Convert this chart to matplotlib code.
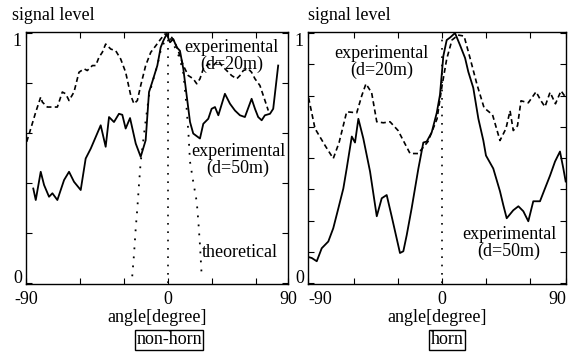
import matplotlib
matplotlib.use('Agg')
import matplotlib.pyplot as plt

plt.rcParams['font.family'] = ['Liberation Serif', 'DejaVu Serif']
plt.rcParams['font.size'] = 13

# ---- non-horn panel (left) ----
nh_20_angle = [-96.8, -94.0, -90.6, -87.2, -86.1, -82.7, -75.8, -72.4, -70.1, -67.8, -64.4, -61.0,
               -57.5, -55.3, -51.8, -49.5, -47.3, -45.0, -42.7, -39.2, -35.8, -32.4, -29.0, -25.5,
               -23.3, -21.0, -18.7, -15.3, -11.8, -8.4, -5.0, -2.1, 0.2, 2.5, 4.8, 8.2, 10.5, 13.9,
               17.3, 19.7, 21.9, 24.2, 27.6, 31.0, 34.5, 36.8, 40.2, 43.6, 47.1, 49.3, 51.6, 55.0,
               57.3, 59.6, 63.0, 65.3, 67.6, 68.7]
nh_20_level = [0.565, 0.618, 0.684, 0.744, 0.724, 0.704, 0.704, 0.764, 0.757, 0.730, 0.764, 0.843,
               0.857, 0.850, 0.870, 0.870, 0.903, 0.923, 0.956, 0.936, 0.929, 0.896, 0.843, 0.750,
               0.717, 0.730, 0.790, 0.870, 0.923, 0.949, 0.976, 0.996, 0.996, 0.983, 0.963, 0.910,
               0.870, 0.830, 0.817, 0.797, 0.817, 0.857, 0.876, 0.870, 0.890, 0.870, 0.850, 0.830,
               0.817, 0.830, 0.850, 0.857, 0.843, 0.817, 0.790, 0.750, 0.710, 0.690]

nh_50_angle = [-92.3, -90.6, -87.2, -84.9, -81.5, -79.2, -75.8, -71.2, -67.8, -64.4, -59.8, -56.4,
               -52.9, -46.1, -42.7, -40.4, -37.0, -33.6, -31.3, -29.0, -26.0, -22.1, -18.7, -15.3,
               -13.0, -10.8, -7.3, -5.0, -3.2, -0.9, 1.4, 3.6, 6.0, 8.2, 10.5, 12.8, 15.1, 17.3,
               21.9, 24.2, 27.6, 29.9, 32.2, 34.5, 39.0, 42.5, 45.9, 49.3, 52.7, 57.3, 59.6, 61.8,
               64.2, 66.4, 69.9, 72.1, 75.5]
nh_50_level = [0.378, 0.332, 0.445, 0.392, 0.345, 0.359, 0.332, 0.412, 0.445, 0.405, 0.372, 0.498,
               0.538, 0.631, 0.545, 0.664, 0.644, 0.677, 0.673, 0.618, 0.660, 0.558, 0.505, 0.571,
               0.764, 0.804, 0.870, 0.943, 0.969, 0.996, 0.963, 0.976, 0.943, 0.929, 0.857, 0.750,
               0.644, 0.598, 0.578, 0.637, 0.657, 0.697, 0.704, 0.671, 0.757, 0.717, 0.690, 0.671,
               0.664, 0.737, 0.697, 0.664, 0.651, 0.671, 0.677, 0.697, 0.870]

# theoretical main lobe (upper part hidden under the measured curves)
theo_angle = [-24.5, -23.3, -22.1, -21.0, -19.9, -18.7, -15.5, -13.0, -10.8, -7.3, -5.0, 0.0,
              5.0, 8.0, 10.5, 12.5, 14.0, 15.1, 17.3, 19.7, 20.8, 21.9, 23.1]
theo_level = [0.027, 0.113, 0.219, 0.299, 0.392, 0.485, 0.64, 0.75, 0.80, 0.87, 0.93, 1.0,
              0.94, 0.90, 0.84, 0.72, 0.60, 0.485, 0.405, 0.325, 0.246, 0.153, 0.027]

# ---- horn panel (right) ----
h_20_angle = [-91.4, -87.0, -80.1, -74.5, -70.5, -65.3, -58.4, -55.0, -52.1, -48.2, -44.7, -40.2,
              -35.6, -30.1, -21.9, -16.4, -9.6, -3.4, 0.0, 3.2, 6.8, 11.0, 15.1, 19.2, 24.0, 28.8,
              34.6, 39.7, 43.8, 46.6, 48.8, 51.7, 54.1, 59.1, 64.4, 67.8, 70.5, 74.0, 77.7, 81.5, 83.9]
h_20_level = [0.741, 0.618, 0.550, 0.498, 0.562, 0.685, 0.681, 0.749, 0.797, 0.761, 0.645, 0.641,
              0.645, 0.610, 0.518, 0.518, 0.566, 0.657, 0.789, 0.896, 0.972, 0.992, 0.988, 0.900,
              0.793, 0.701, 0.673, 0.570, 0.618, 0.689, 0.610, 0.629, 0.729, 0.721, 0.765, 0.729,
              0.705, 0.763, 0.717, 0.769, 0.749]

h_50_angle = [-92.7, -89.2, -85.8, -82.4, -77.9, -74.5, -71.0, -67.6, -65.3, -61.8, -59.6, -57.3,
              -53.9, -49.3, -44.7, -41.3, -37.9, -34.5, -28.8, -26.5, -24.2, -20.8, -16.2, -12.8,
              -10.5, -7.1, -3.6, -1.4, 0.9, 3.2, 5.5, 8.9, 12.3, 15.8, 18.0, 21.4, 24.9, 28.3,
              30.1, 35.1, 39.7, 42.0, 44.3, 48.8, 52.3, 55.7, 59.1, 62.5, 67.1, 70.5, 74.0, 77.4,
              80.8, 83.1, 84.7]
h_50_level = [0.106, 0.100, 0.087, 0.139, 0.166, 0.219, 0.299, 0.378, 0.458, 0.586, 0.562, 0.657,
              0.578, 0.446, 0.267, 0.339, 0.352, 0.267, 0.120, 0.127, 0.191, 0.299, 0.458, 0.562,
              0.566, 0.602, 0.681, 0.753, 0.908, 0.972, 0.982, 1.0, 0.952, 0.900, 0.845, 0.781,
              0.657, 0.570, 0.510, 0.458, 0.367, 0.311, 0.259, 0.291, 0.307, 0.287, 0.247, 0.327,
              0.327, 0.378, 0.430, 0.486, 0.526, 0.458, 0.406]

fig = plt.figure(figsize=(5.71, 3.55), dpi=100)
ax1 = fig.add_axes([0.0455, 0.2, 0.4588, 0.709])
ax2 = fig.add_axes([0.5394, 0.2, 0.4518, 0.709])

dash = (0, (3, 2))
dot = (0, (1, 4))


def style_axes(ax, lo, hi, ystep, label_ha):
    ax.set_xlim(lo, hi)
    ax.set_ylim(-0.004, 1.003)
    ax.set_xticks([lo, 0, hi], ['-90', '0', '90'])
    ax.set_xticks([-60, -30, 30, 60], minor=True)
    n = int(round(1 / ystep))
    ax.set_yticks([0, 1], ['0', '1'])
    ax.set_yticks([k * ystep for k in range(1, n)], minor=True)
    ax.tick_params(which='both', direction='in', top=True, right=True, length=4, width=0.8)
    ax.tick_params(axis='x', pad=5)
    ax.tick_params(axis='y', pad=3)
    xl = ax.get_xticklabels()
    xl[0].set_ha(label_ha[0])
    xl[2].set_ha(label_ha[1])
    yl = ax.get_yticklabels()
    yl[0].set_va('baseline')
    yl[1].set_va('top')
    ax.set_xlabel('angle[degree]', labelpad=1)
    for s in ax.spines.values():
        s.set_linewidth(1.0)
    ax.vlines(0, 0, 1, colors='black', linestyles=dot, linewidth=1.2)


# left panel
ax1.plot(nh_20_angle, nh_20_level, color='black', linestyle=dash, linewidth=1.2)
ax1.plot(nh_50_angle, nh_50_level, color='black', linewidth=1.3)
ax1.plot(theo_angle, theo_level, color='black', linestyle=dot, linewidth=1.3)
style_axes(ax1, -97.3, 82.2, 0.2, ('center', 'center'))
ax1.text(0.785, 0.975, 'experimental\n(d=20m)', transform=ax1.transAxes, ha='center', va='top',
         linespacing=1.0)
ax1.text(0.81, 0.56, 'experimental\n(d=50m)', transform=ax1.transAxes, ha='center', va='top',
         linespacing=1.0)
ax1.text(0.815, 0.125, 'theoretical', transform=ax1.transAxes, ha='center', va='center')

# right panel
ax2.plot(h_20_angle, h_20_level, color='black', linestyle=dash, linewidth=1.2)
ax2.plot(h_50_angle, h_50_level, color='black', linewidth=1.3)
style_axes(ax2, -91.8, 84.9, 0.125, ('left', 'right'))
ax2.text(0.285, 0.95, 'experimental\n(d=20m)', transform=ax2.transAxes, ha='center', va='top',
         linespacing=1.0)
ax2.text(0.78, 0.23, 'experimental\n(d=50m)', transform=ax2.transAxes, ha='center', va='top',
         linespacing=1.0)

fig.text(0.021, 0.955, 'signal level', ha='left', va='center')
fig.text(0.539, 0.955, 'signal level', ha='left', va='center')

box = dict(boxstyle='square,pad=0.08', facecolor='white', edgecolor='black', linewidth=1.0)
fig.text(169 / 571, 1 - 340 / 355, 'non-horn', ha='center', va='center', bbox=box)
fig.text(447 / 571, 1 - 340 / 355, 'horn', ha='center', va='center', bbox=box)

fig.savefig('out.png', dpi=100)
